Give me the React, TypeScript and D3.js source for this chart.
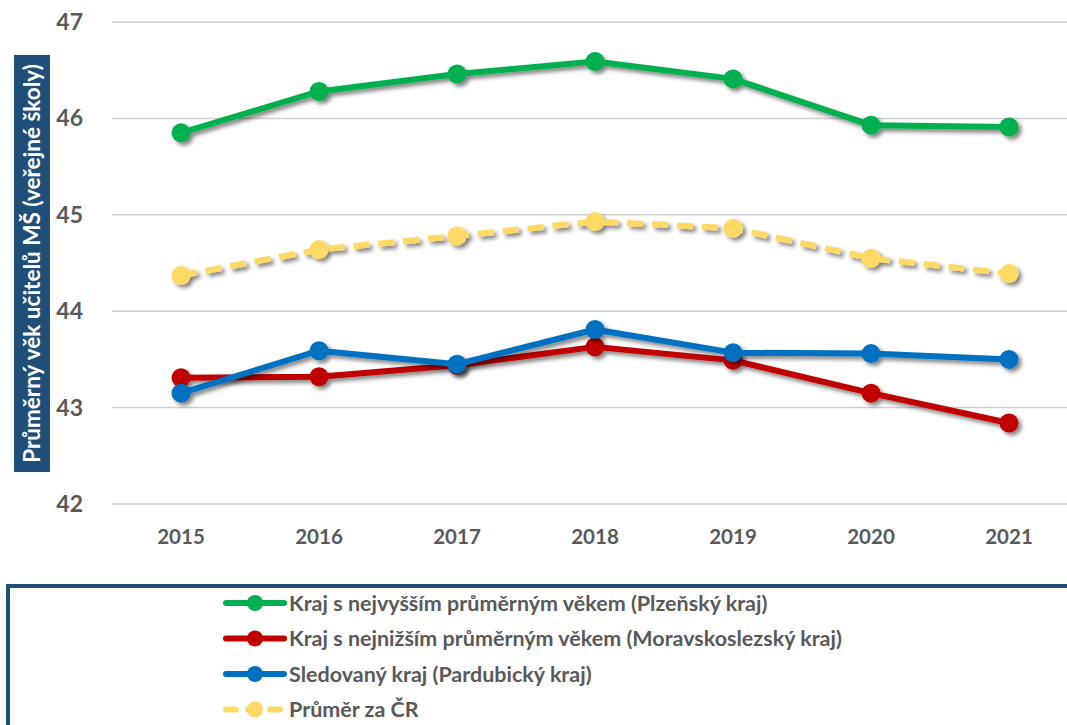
import React from "react";
import * as d3 from "d3";

const years = ["2015", "2016", "2017", "2018", "2019", "2020", "2021"];
const yTicks = [42, 43, 44, 45, 46, 47];
const plzen = [45.85, 46.28, 46.46, 46.59, 46.41, 45.93, 45.91];
const msk = [43.31, 43.32, 43.44, 43.63, 43.49, 43.15, 42.84];
const pardubice = [43.15, 43.59, 43.45, 43.81, 43.57, 43.56, 43.5];
const prumer = [44.37, 44.64, 44.78, 44.93, 44.86, 44.55, 44.39];

const seriesNames = [
  "Kraj s nejvyšším průměrným věkem (Plzeňský kraj)",
  "Kraj s nejnižším průměrným věkem (Moravskoslezský kraj)",
  "Sledovaný kraj (Pardubický kraj)",
  "Průměr za ČR",
];
const seriesValues = [plzen, msk, pardubice, prumer];
const seriesColors = ["#00B050", "#C00000", "#0070C0", "#FFD966"];
const seriesDash = [null, null, null, "16 9"];
const drawOrder = [3, 0, 1, 2];

const yTitle = "Průměrný věk učitelů MŠ (veřejné školy)";

const W = 1067;
const H = 725;
const FONT = "Lato, 'Open Sans', sans-serif";

export default function App() {
  const x = d3.scaleBand<string>().domain(years).range([112, 1078]);
  const y = d3.scaleLinear().domain([42, 47]).range([504, 22]);
  const line = d3
    .line<number>()
    .x((_, i) => (x(years[i]) as number) + x.bandwidth() / 2)
    .y((d) => y(d));

  return (
    <svg
      width={W}
      height={H}
      style={{ position: "absolute", left: 0, top: 0, background: "#fff" }}
    >
      <defs>
        <filter id="sh" x="-20%" y="-20%" width="140%" height="160%">
          <feGaussianBlur in="SourceAlpha" stdDeviation="2" />
          <feOffset dx="3" dy="3" result="ob" />
          <feComponentTransfer>
            <feFuncA type="linear" slope="0.5" />
          </feComponentTransfer>
          <feMerge>
            <feMergeNode />
            <feMergeNode in="SourceGraphic" />
          </feMerge>
        </filter>
      </defs>
      <rect x={0} y={0} width={W} height={H} fill="#fff" />
      {/* grid */}
      {yTicks.map((t) => (
        <g key={t}>
          <line x1={112} x2={1078} y1={y(t)} y2={y(t)} stroke="#D0D0D0" strokeWidth={1.5} />
          <text
            x={83}
            y={y(t)}
            dy="0.35em"
            textAnchor="end"
            fontFamily={FONT}
            fontWeight="bold"
            fontSize={23}
            fill="#595959"
          >
            {t}
          </text>
        </g>
      ))}
      {years.map((yr) => (
        <text
          key={yr}
          x={(x(yr) as number) + x.bandwidth() / 2}
          y={537}
          dy="0.35em"
          textAnchor="middle"
          fontFamily={FONT}
          fontWeight="bold"
          fontSize={20.5}
          fill="#595959"
        >
          {yr}
        </text>
      ))}
      {/* y title */}
      <rect x={14} y={55} width={36} height={417} fill="#1F4E79" />
      <text
        transform={`translate(32, ${(55 + 472) / 2}) rotate(-90)`}
        textAnchor="middle"
        dy="0.35em"
        fontFamily={FONT}
        fontWeight="bold"
        fontSize={22.5}
        fill="#fff"
      >
        {yTitle}
      </text>
      {/* series */}
      {drawOrder.map((si) => (
        <g key={si} filter="url(#sh)">
          <path
            d={line(seriesValues[si]) as string}
            fill="none"
            stroke={seriesColors[si]}
            strokeWidth={6}
            strokeDasharray={seriesDash[si] ?? undefined}
            strokeLinejoin="round"
          />
          {seriesValues[si].map((v, i) => (
            <circle
              key={i}
              cx={(x(years[i]) as number) + x.bandwidth() / 2}
              cy={y(v)}
              r={9.5}
              fill={seriesColors[si]}
            />
          ))}
        </g>
      ))}
      {/* legend */}
      <rect x={8} y={586} width={1080} height={160} fill="none" stroke="#1F4E79" strokeWidth={4} />
      {seriesNames.map((name, i) => {
        const ly = 603 + i * 35.5;
        return (
          <g key={name}>
            <line
              x1={226}
              x2={284}
              y1={ly}
              y2={ly}
              stroke={seriesColors[i]}
              strokeWidth={6}
              strokeLinecap="round"
              strokeDasharray={seriesDash[i] ? "10 12" : undefined}
            />
            <circle cx={255} cy={ly} r={8} fill={seriesColors[i]} />
            <text
              x={289}
              y={ly}
              dy="0.35em"
              fontFamily={FONT}
              fontWeight="bold"
              fontSize={21.5}
              fill="#595959"
            >
              {name}
            </text>
          </g>
        );
      })}
    </svg>
  );
}
